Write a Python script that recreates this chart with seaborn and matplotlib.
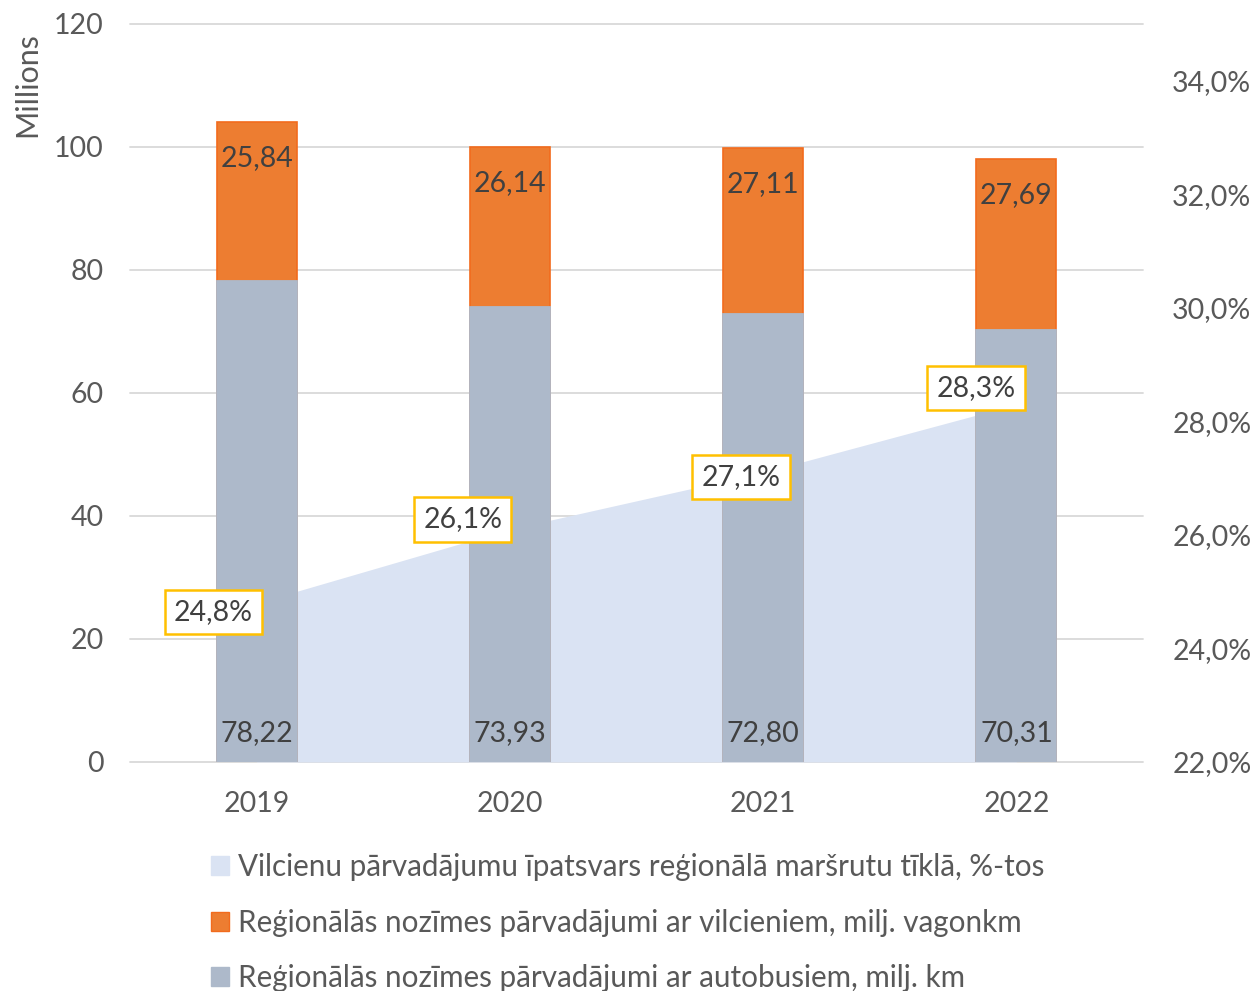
import seaborn as sns
import matplotlib.pyplot as plt
import pandas as pd
from matplotlib.patches import Patch

years = ['2019', '2020', '2021', '2022']
bus_km = [78.22, 73.93, 72.80, 70.31]
train_vagonkm = [25.84, 26.14, 27.11, 27.69]
train_share = [24.8, 26.1, 27.1, 28.3]

legend_labels = ['Vilcienu pārvadājumu īpatsvars reģionālā maršrutu tīklā, %-tos',
                 'Reģionālās nozīmes pārvadājumi ar vilcieniem, milj. vagonkm',
                 'Reģionālās nozīmes pārvadājumi ar autobusiem, milj. km']

# label offsets (points) for the share boxes, relative to each point
share_offsets = [(-31, -6.5), (-34, 7), (-16, -3), (-29, 12)]

bus_color = '#ADB9CA'
train_color = '#ED7D31'
area_color = '#DAE3F3'
text_color = '#404040'
tick_color = '#595959'
grid_color = '#D9D9D9'
fs = 20.5

sns.set_theme(style='white')
plt.rcParams['font.family'] = ['Lato', 'DejaVu Sans']

df = pd.DataFrame({'year': years, 'bus': bus_km, 'train': train_vagonkm,
                   'share': train_share})
df['total'] = df['bus'] + df['train']

fig = plt.figure(figsize=(12.58, 9.91), dpi=100)
ax = fig.add_axes([0.1033, 0.2311, 0.8053, 0.7447])
ax2 = ax.twinx()
# bars in front of the area
ax.set_zorder(ax2.get_zorder() + 1)
ax.patch.set_visible(False)
ax2.patch.set_visible(False)

# Area on the secondary axis
xpos = list(range(len(years)))
ax2.fill_between(xpos, 22, df['share'], color=area_color, lw=0, zorder=2)
ax2.set_ylim(22, 35)
ax2.set_yticks(range(22, 35, 2))
ax2.set_yticklabels([f'{t},0%' for t in range(22, 35, 2)])

# Gridlines of the primary axis, drawn behind the area
ax.set_ylim(0, 120)
ax.set_yticks(range(0, 121, 20))
for t in ax.get_yticks():
    ax2.plot([0, 1], [t, t], transform=ax.get_yaxis_transform(),
             color=grid_color, lw=1.3, zorder=1, clip_on=False)

# Stacked bars: totals in orange, bus on top
sns.barplot(data=df, x='year', y='total', color=train_color, width=0.316,
            edgecolor='#F26B1D', linewidth=1.2, saturation=1, ax=ax, zorder=3)
sns.barplot(data=df, x='year', y='bus', color=bus_color, width=0.316,
            edgecolor=bus_color, linewidth=1.3, saturation=1, ax=ax, zorder=4)
ax.set_xlim(-0.5, 3.5)

for i, row in df.iterrows():
    ax.annotate(f"{row['train']:.2f}".replace('.', ','), (i, row['total']),
                xytext=(0, -26), textcoords='offset points',
                ha='center', va='center', fontsize=fs, color=text_color,
                zorder=5)
    ax.annotate(f"{row['bus']:.2f}".replace('.', ','), (i, 0),
                xytext=(0, 20.5), textcoords='offset points',
                ha='center', va='center', fontsize=fs, color=text_color,
                zorder=5)

for i, v in enumerate(train_share):
    ax.annotate(f'{v:.1f}%'.replace('.', ','), (i, v), xycoords=ax2.transData,
                xytext=share_offsets[i], textcoords='offset points',
                ha='center', va='center', fontsize=fs, color=text_color,
                zorder=6,
                bbox=dict(boxstyle='square,pad=0.32', fc='white',
                          ec='#FFC000', lw=1.8))

ax.set_xlabel('')
ax.set_ylabel('')
ax2.set_ylabel('')
for a in (ax, ax2):
    for s in a.spines.values():
        s.set_visible(False)
ax.tick_params(axis='y', length=0, pad=19, labelsize=fs, colors=tick_color)
ax.tick_params(axis='x', length=0, pad=21, labelsize=fs, colors=tick_color)
ax2.tick_params(axis='y', length=0, pad=21, labelsize=fs, colors=tick_color)

fig.text(27 / 1258, 1 - 85 / 991, 'Millions', rotation=90, ha='center',
         va='center', fontsize=22, color=tick_color)

handles = [Patch(color=area_color), Patch(facecolor=train_color, edgecolor='#F26B1D'),
           Patch(color=bus_color)]
leg = fig.legend(handles, legend_labels, loc='upper left',
                 bbox_to_anchor=(211 / 1258, 1 - 853 / 991), frameon=False,
                 fontsize=21.3, handlelength=0.62, handleheight=0.62,
                 handletextpad=0.3, labelspacing=0.93, borderpad=0,
                 borderaxespad=0)
for t in leg.get_texts():
    t.set_color(tick_color)

fig.savefig('out.png', dpi=100)
